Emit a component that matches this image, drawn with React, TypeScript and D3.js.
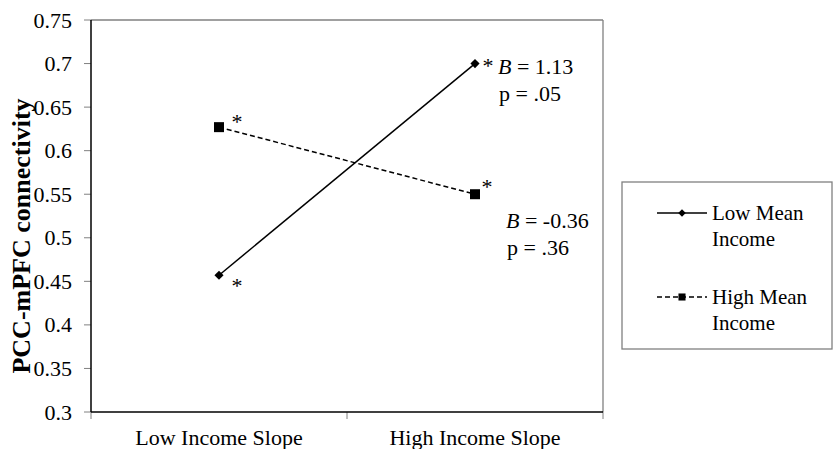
import { useRef, useEffect } from 'react'
import * as d3 from 'd3'

// categories on the x axis
const categories = ['Low Income Slope', 'High Income Slope']
// PCC-mPFC connectivity per group
const lowMeanIncome = [0.457, 0.7]
const highMeanIncome = [0.627, 0.55]
const yTicks = [0.3, 0.35, 0.4, 0.45, 0.5, 0.55, 0.6, 0.65, 0.7, 0.75]
const yTickLabels = ['0.3', '0.35', '0.4', '0.45', '0.5', '0.55', '0.6', '0.65', '0.7', '0.75']
const seriesNames = [['Low Mean', 'Income'], ['High Mean', 'Income']]
const slopeB = ['1.13', '-0.36']
const slopeP = ['.05', '.36']

const W = 833
const H = 449
const FONT = "'Liberation Serif','Times New Roman',serif"

export default function App() {
  const svgRef = useRef<SVGSVGElement | null>(null)

  useEffect(() => {
    const svg = svgRef.current
    if (!svg) return

    const margin = { top: 20, right: 230, bottom: 37, left: 91 }
    const iW = W - margin.left - margin.right
    const iH = H - margin.top - margin.bottom

    const sel = d3.select(svg)
    sel.selectAll('*').remove()
    const g = sel.append('g').attr('transform', `translate(${margin.left},${margin.top})`)

    const x = d3.scaleBand().domain(categories).range([0, iW])
    const y = d3.scaleLinear().domain([0.3, 0.75]).range([iH, 0])
    const cx = (c: string) => (x(c) as number) + x.bandwidth() / 2

    // plot area frame (top/right gray)
    g.append('line').attr('x1', 0).attr('x2', iW).attr('y1', 0).attr('y2', 0)
      .attr('stroke', '#808080').attr('stroke-width', 1.3)
    g.append('line').attr('x1', iW).attr('x2', iW).attr('y1', 0).attr('y2', iH)
      .attr('stroke', '#808080').attr('stroke-width', 1.3)

    // y ticks + labels
    yTicks.forEach((t, i) => {
      g.append('line').attr('x1', -7).attr('x2', 0).attr('y1', y(t)).attr('y2', y(t))
        .attr('stroke', '#808080').attr('stroke-width', 1)
      g.append('text')
        .attr('x', -19).attr('y', y(t))
        .attr('text-anchor', 'end').attr('dominant-baseline', 'central')
        .attr('font-family', FONT).attr('font-size', '22px').attr('fill', '#000')
        .text(yTickLabels[i])
    })

    // x ticks at band edges
    const edges = [0, ...categories.map((c) => (x(c) as number) + x.bandwidth())]
    edges.forEach((e) => {
      g.append('line').attr('x1', e).attr('x2', e).attr('y1', iH).attr('y2', iH + 7)
        .attr('stroke', '#808080').attr('stroke-width', 1)
    })
    categories.forEach((c) => {
      g.append('text')
        .attr('x', cx(c)).attr('y', iH + 33)
        .attr('text-anchor', 'middle')
        .attr('font-family', FONT).attr('font-size', '22px').attr('fill', '#000')
        .text(c)
    })

    // axes lines
    g.append('line').attr('x1', 0).attr('x2', 0).attr('y1', 0).attr('y2', iH)
      .attr('stroke', '#000').attr('stroke-width', 1.5)
    g.append('line').attr('x1', 0).attr('x2', iW).attr('y1', iH).attr('y2', iH)
      .attr('stroke', '#000').attr('stroke-width', 1.5)

    // y axis title
    sel.append('text')
      .attr('transform', `translate(30,236) rotate(-90)`)
      .attr('text-anchor', 'middle')
      .attr('font-family', FONT).attr('font-size', '26px').attr('font-weight', 'bold')
      .text('PCC-mPFC connectivity')

    const line = d3.line<number>().x((d, i) => cx(categories[i])).y((d) => y(d))
    const diamond = d3.symbol().type(d3.symbolSquare).size(42)
    const square = d3.symbol().type(d3.symbolSquare).size(100)

    // low mean income: solid + diamonds
    g.append('path').datum(lowMeanIncome).attr('d', line)
      .attr('fill', 'none').attr('stroke', '#000').attr('stroke-width', 1.5)
    lowMeanIncome.forEach((v, i) => {
      g.append('path').attr('d', diamond()!)
        .attr('transform', `translate(${cx(categories[i])},${y(v)}) rotate(45)`)
        .attr('fill', '#000')
    })
    // high mean income: dashed + squares
    g.append('path').datum(highMeanIncome).attr('d', line)
      .attr('fill', 'none').attr('stroke', '#000').attr('stroke-width', 1.5)
      .attr('stroke-dasharray', '5,3')
    highMeanIncome.forEach((v, i) => {
      g.append('path').attr('d', square()!)
        .attr('transform', `translate(${cx(categories[i])},${y(v)})`)
        .attr('fill', '#000')
    })

    // asterisks
    const star = (px: number, py: number) =>
      g.append('text').attr('x', px).attr('y', py)
        .attr('font-family', FONT).attr('font-size', '22px').attr('text-anchor', 'middle')
        .attr('dominant-baseline', 'central')
        .text('*')
    star(cx(categories[0]) + 18, y(lowMeanIncome[0]) + 10)
    star(cx(categories[1]) + 13, y(lowMeanIncome[1]) + 2)
    star(cx(categories[0]) + 18, y(highMeanIncome[0]) - 6)
    star(cx(categories[1]) + 12, y(highMeanIncome[1]) - 8)

    // slope annotations
    const annot = (px: number, py: number, k: number) => {
      const t1 = g.append('text').attr('x', px).attr('y', py)
        .attr('font-family', FONT).attr('font-size', '22px')
      t1.append('tspan').attr('font-style', 'italic').text('B')
      t1.append('tspan').text(` = ${slopeB[k]}`)
      g.append('text').attr('x', px + 1).attr('y', py + 27)
        .attr('font-family', FONT).attr('font-size', '22px')
        .text(`p = ${slopeP[k]}`)
    }
    annot(cx(categories[1]) + 23, y(lowMeanIncome[1]) + 10, 0)
    annot(cx(categories[1]) + 31, y(highMeanIncome[1]) + 34, 1)

    // legend
    const lg = sel.append('g').attr('transform', 'translate(622,182)')
    lg.append('rect').attr('x', 0).attr('y', 0).attr('width', 210).attr('height', 167)
      .attr('fill', '#fff').attr('stroke', '#808080').attr('stroke-width', 1.3)
    seriesNames.forEach((name, i) => {
      const ly = 31 + i * 84
      lg.append('line').attr('x1', 35).attr('x2', 85).attr('y1', ly).attr('y2', ly)
        .attr('stroke', '#000').attr('stroke-width', 1.5)
        .attr('stroke-dasharray', i === 1 ? '5,3' : null)
      lg.append('path')
        .attr('d', i === 0 ? d3.symbol().type(d3.symbolSquare).size(28)()! : d3.symbol().type(d3.symbolSquare).size(50)()!)
        .attr('transform', `translate(60,${ly})${i === 0 ? ' rotate(45)' : ''}`)
        .attr('fill', '#000')
      name.forEach((t, j) => {
        lg.append('text').attr('x', 90).attr('y', ly + 7 + j * 26)
          .attr('font-family', FONT).attr('font-size', '21px')
          .text(t)
      })
    })
  }, [])

  return (
    <div style={{ position: 'fixed', left: 0, top: 0 }}>
      <svg ref={svgRef} width={W} height={H} style={{ display: 'block', background: '#fff' }} />
    </div>
  )
}
